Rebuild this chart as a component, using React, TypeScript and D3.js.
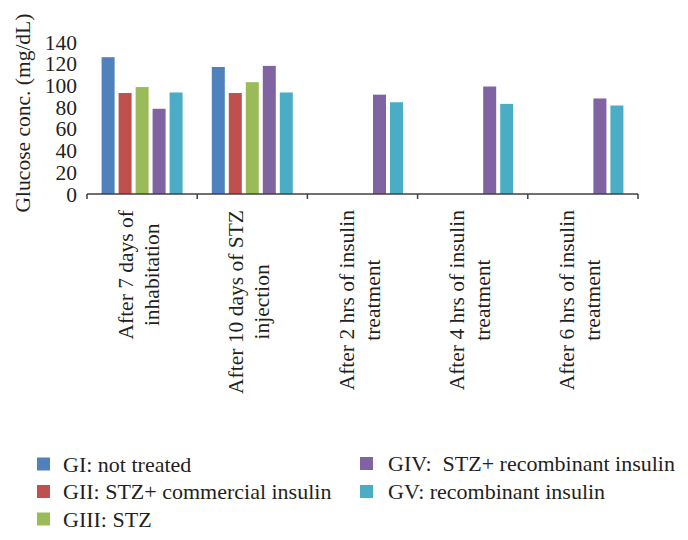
import React from "react";
import * as d3 from "d3";

const categories: string[][] = [
  ["After 7 days of", "inhabitation"],
  ["After 10 days of STZ", "injection"],
  ["After 2 hrs of insulin", "treatment"],
  ["After 4 hrs of insulin", "treatment"],
  ["After 6 hrs of insulin", "treatment"],
];
const seriesNames = [
  "GI: not treated",
  "GII: STZ+ commercial insulin",
  "GIII: STZ",
  "GIV:  STZ+ recombinant insulin",
  "GV: recombinant insulin",
];
const seriesColors = ["#4F81BD", "#C0504D", "#9BBB59", "#8064A2", "#4BACC6"];
const GI = [126, 117, null, null, null];
const GII = [93, 93, null, null, null];
const GIII = [98.5, 103, null, null, null];
const GIV = [78.5, 118, 91.5, 99, 88];
const GV = [93.5, 93.5, 84.5, 83, 81.5];
const seriesValues: (number | null)[][] = [GI, GII, GIII, GIV, GV];
const yTicks = [0, 20, 40, 60, 80, 100, 120, 140];
const yTitle = "Glucose conc. (mg/dL)";

const FONT = "'Liberation Serif', 'Times New Roman', Times, 'DejaVu Serif', serif";
const FS = 21.5;
const LFS = 22;
const TEXT = "#231f20";

function measure(s: string): number {
  const c = document.createElement("canvas").getContext("2d");
  if (!c) return s.length * FS * 0.42;
  c.font = `${FS}px 'Liberation Serif', 'Times New Roman', serif`;
  return c.measureText(s).width;
}

export default function App() {
  const W = 688, H = 540;
  const x0 = d3.scaleBand<number>().domain(d3.range(categories.length)).range([87, 638]).padding(0);
  const x1 = d3.scaleBand<number>().domain(d3.range(seriesNames.length)).range([0, 81]).paddingInner(4 / 17).paddingOuter(0);
  const y = d3.scaleLinear().domain([0, 140]).range([194, 42]);
  const groupW = 81;

  const legendPos = [
    { sx: 37, tx: 63, cy: 464 },
    { sx: 37, tx: 63, cy: 491.5 },
    { sx: 37, tx: 63, cy: 519 },
    { sx: 360, tx: 388, cy: 463.5 },
    { sx: 360, tx: 388, cy: 491.5 },
  ];
  const ts: React.CSSProperties = { fontFamily: FONT, fontSize: FS, fill: TEXT, whiteSpace: "pre" };
  const ls: React.CSSProperties = { ...ts, fontSize: LFS };

  return (
    <svg width={W} height={H} style={{ display: "block", position: "absolute", left: 0, top: 0, background: "#fff", fontFamily: FONT }}>
      <rect x={0} y={0} width={W} height={H} fill="#fff" />
      {/* y axis title */}
      <text transform={`translate(30,113) rotate(-90)`} textAnchor="middle" style={ts}>{yTitle}</text>
      {/* y ticks */}
      {yTicks.map((t) => (
        <text key={t} x={77} y={y(t)} dy="0.35em" textAnchor="end" style={ts}>{t}</text>
      ))}
      {/* bars */}
      {categories.map((_, ci) => {
        const gx = (x0(ci) as number) + x0.bandwidth() / 2 - groupW / 2;
        return seriesValues.map((vals, si) => {
          const v = vals[ci];
          if (v == null) return null;
          return (
            <rect key={`${ci}-${si}`} x={gx + (x1(si) as number)} y={y(v)} width={x1.bandwidth()} height={y(0) - y(v)} fill={seriesColors[si]} />
          );
        });
      })}
      {/* x axis */}
      <line x1={87} x2={638} y1={194} y2={194} stroke="#404040" strokeWidth={1.5} />
      {d3.range(categories.length + 1).map((i) => {
        const xx = i < categories.length ? (x0(i) as number) : 638;
        return <line key={i} x1={xx} x2={xx} y1={194} y2={199} stroke="#404040" strokeWidth={1.5} />;
      })}
      {/* category labels */}
      {categories.map((lines, ci) => {
        const cx = (x0(ci) as number) + x0.bandwidth() / 2;
        const maxW = Math.max(...lines.map(measure));
        const cy = 210 + maxW / 2;
        const n = lines.length;
        return lines.map((ln, li) => {
          const bx = cx + (li - (n - 1) / 2) * 26 + 4;
          return (
            <text key={`${ci}-${li}`} transform={`translate(${bx},${cy}) rotate(-90)`} textAnchor="middle" style={ts}>{ln}</text>
          );
        });
      })}
      {/* legend */}
      {seriesNames.map((name, si) => {
        const p = legendPos[si];
        return (
          <g key={si}>
            <rect x={p.sx} y={p.cy - 6.5} width={13} height={13} fill={seriesColors[si]} />
            <text x={p.tx} y={p.cy} dy="0.35em" style={ls}>{name}</text>
          </g>
        );
      })}
    </svg>
  );
}
